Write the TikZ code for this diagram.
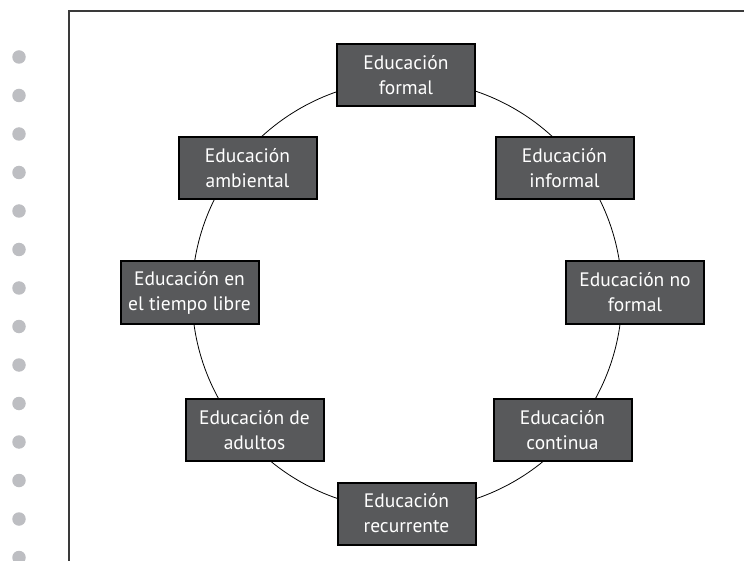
\documentclass[tikz,border=0pt]{standalone}
\usepackage{fontspec}
\setmainfont{PT Sans}
\definecolor{boxfill}{HTML}{58595B}
\definecolor{dotgray}{HTML}{BDBEC2}
\definecolor{framegray}{HTML}{3A3A3A}
\begin{document}
\begin{tikzpicture}[x=1pt,y=-1pt,
  edubox/.style={draw=black,line width=2pt,fill=boxfill,text=white,
    minimum width=138pt,minimum height=62pt,inner sep=2pt,align=center,
    font=\fontsize{19.5}{25}\selectfont},
  sidedot/.style={circle,fill=dotgray,minimum size=13.5pt,inner sep=0pt}]
\useasboundingbox (0,0) rectangle (744,561);
% dots
\foreach \i in {0,...,13}{
  \node[sidedot] (d\i) at (19,{57+38.5*\i}) {};
}
% frame
\coordinate (fa) at (69,561);
\coordinate (fb) at (69,11);
\coordinate (fc) at (744,11);
\draw[framegray,line width=1.3pt] (fa) -- (fb) -- (fc);
% circle
\coordinate (cc) at (407,295);
\draw[black,line width=0.8pt] (cc) circle[radius=215pt];
% boxes
\node[edubox] (formal) at (406,75.5) {Educación\\formal};
\node[edubox] (informal) at (564.5,168) {Educación\\informal};
\node[edubox] (noformal) at (635,292.5) {Educación no\\formal};
\node[edubox] (continua) at (562.5,430) {Educación\\continua};
\node[edubox] (recurrente) at (406.5,513.5) {Educación\\recurrente};
\node[edubox] (adultos) at (254.5,430) {Educación de\\adultos};
\node[edubox] (libre) at (189.5,292.5) {Educación en\\el tiempo libre};
\node[edubox] (ambiental) at (247.5,168) {Educación\\ambiental};
\end{tikzpicture}
\end{document}
